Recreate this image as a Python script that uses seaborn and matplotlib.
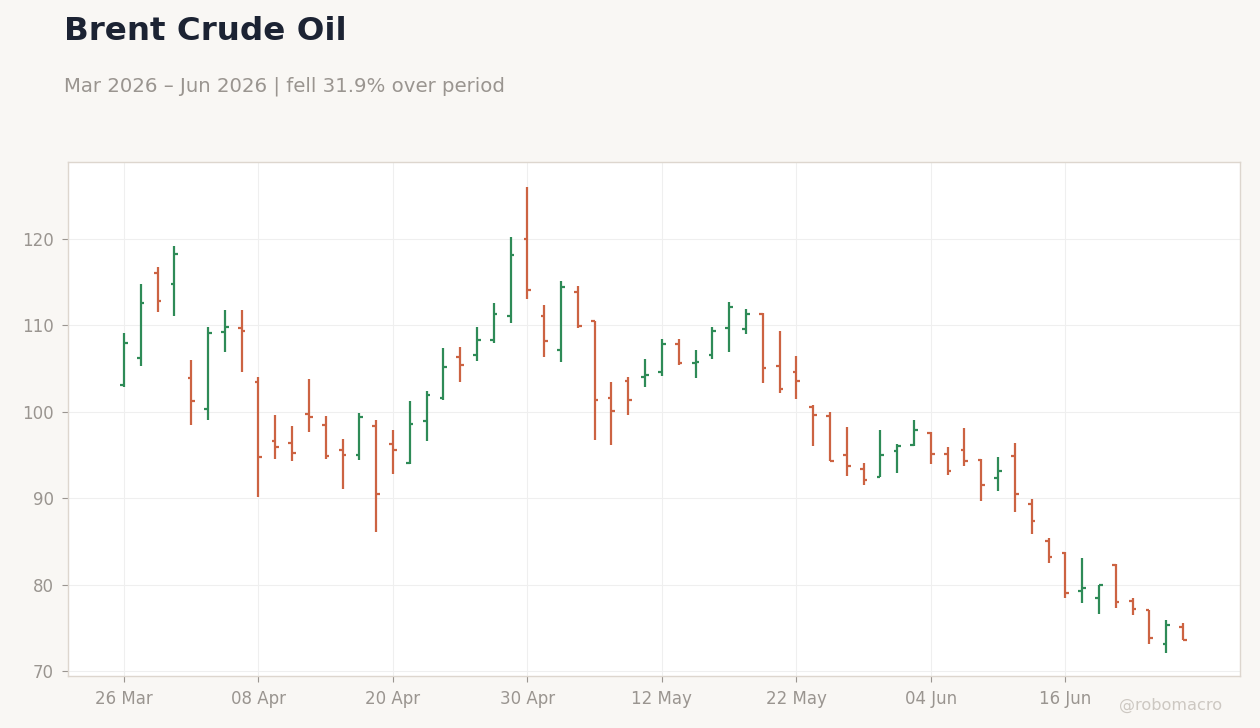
import pandas as pd
import numpy as np
import matplotlib
matplotlib.use("Agg")
import matplotlib.pyplot as plt
import seaborn as sns

# OHLC values (one per trading session)
opens = [103.1, 106.2, 116.1, 114.8, 103.9, 100.3, 109.2, 109.7, 103.45, 96.6,
         96.4, 99.7, 98.46, 95.57, 95.0, 98.35, 96.26, 94.07, 98.9, 101.56,
         106.33, 106.56, 108.3, 111.06, 119.95, 111.06, 107.14, 113.84, 110.49, 101.6,
         103.55, 104.0, 104.6, 107.84, 105.64, 106.56, 109.65, 109.57, 111.3, 105.33,
         104.64, 100.6, 99.55, 95.04, 93.42, 92.5, 95.5, 96.16, 97.58, 95.16,
         95.56, 94.41, 92.29, 94.87, 89.32, 85.04, 83.65, 79.22, 78.42, 82.27,
         78.1, 77.07, 73.15, 75.1]
highs = [109.06, 114.84, 116.8, 119.2, 105.95, 109.76, 111.8, 111.8, 104.0, 99.6,
         98.3, 103.84, 99.46, 96.9, 99.8, 99.0, 97.84, 101.2, 102.35, 107.33,
         107.45, 109.76, 112.64, 120.27, 126.04, 112.4, 115.18, 114.5, 110.5, 103.4,
         103.97, 106.06, 108.38, 108.38, 107.1, 109.77, 112.67, 111.85, 111.47, 109.32,
         106.45, 100.79, 99.98, 98.24, 94.08, 97.9, 96.28, 99.05, 97.63, 95.9,
         98.07, 94.49, 94.72, 96.34, 89.86, 85.35, 83.8, 83.04, 80.0, 82.35,
         78.42, 77.1, 75.88, 75.54]
lows = [102.87, 105.3, 111.5, 111.1, 98.5, 99.05, 106.9, 104.6, 90.1, 94.5,
        94.3, 97.65, 94.5, 91.07, 94.4, 86.1, 92.8, 94.0, 96.65, 101.4,
        103.44, 105.87, 107.95, 110.26, 113.0, 106.33, 105.75, 109.68, 96.7, 96.14,
        99.6, 102.85, 104.13, 105.4, 103.9, 106.1, 106.9, 109.0, 103.35, 102.2,
        101.5, 96.08, 94.27, 92.6, 91.57, 92.46, 92.96, 96.08, 94.0, 92.7,
        93.71, 89.67, 90.82, 88.4, 85.85, 82.5, 78.45, 77.9, 76.6, 77.3,
        76.5, 73.15, 72.1, 73.58]
closes = [108.0, 112.6, 112.8, 118.3, 101.25, 109.1, 109.8, 109.3, 94.8, 95.9,
          95.2, 99.35, 94.85, 94.96, 99.35, 90.46, 95.57, 98.57, 101.92, 105.17,
          105.4, 108.3, 111.3, 118.1, 114.07, 108.14, 114.41, 109.9, 101.38, 100.08,
          101.35, 104.24, 107.84, 105.64, 105.75, 109.34, 112.1, 111.3, 105.08, 102.67,
          103.6, 99.66, 94.3, 93.77, 92.15, 95.04, 96.08, 97.93, 95.16, 93.16,
          94.25, 91.48, 93.13, 90.44, 87.35, 83.19, 79.03, 79.6, 80.0, 77.99,
          77.15, 73.85, 75.35, 73.58]

holidays = ["2026-04-03", "2026-05-25", "2026-06-19"]
dates = pd.bdate_range("2026-03-26", periods=len(opens), freq="C", holidays=holidays)

df = pd.DataFrame({"date": dates, "open": opens, "high": highs,
                   "low": lows, "close": closes})
df["idx"] = np.arange(len(df))
df["up"] = df["close"] >= df["open"]

UP = "#2e8b57"
DOWN = "#cc6342"
BG = "#f9f7f4"
TXT = "#9a9590"

sns.set_theme(style="whitegrid")
plt.rcParams["font.family"] = ["DejaVu Sans"]

fig = plt.figure(figsize=(12.6, 7.28), dpi=100, facecolor=BG)
ax = fig.add_axes([68 / 1260, 52 / 728, 1172 / 1260, 514 / 728])
ax.set_facecolor("white")

# high-low stems plus open (left) and close (right) ticks
colors = np.where(df["up"], UP, DOWN)
tick_w = 0.22
ax.vlines(df["idx"], df["low"], df["high"], colors=colors, linewidth=1.6)
ax.hlines(df["open"], df["idx"] - tick_w, df["idx"], colors=colors, linewidth=1.6)
ax.hlines(df["close"], df["idx"], df["idx"] + tick_w, colors=colors, linewidth=1.6)

ax.set_xlim(-3.33, 66.39)
ax.set_ylim(69.42, 128.9)

xt = df["idx"][::8]
ax.set_xticks(xt)
ax.set_xticklabels([d.strftime("%d %b") for d in df["date"][::8]])
ax.set_yticks([70, 80, 90, 100, 110, 120])

ax.grid(True, color="#efefef", linewidth=0.8)
ax.tick_params(axis="both", colors=TXT, labelsize=12, length=4, width=0.8,
               pad=6, direction="out")
ax.tick_params(axis="x", bottom=True)
ax.tick_params(axis="y", left=True)
for s in ax.spines.values():
    s.set_color("#ddd6ce")
    s.set_linewidth(1.0)
ax.set_xlabel("")
ax.set_ylabel("")

fig.text(64 / 1260, 1 - 40 / 728, "Brent Crude Oil", fontsize=23.4, fontweight="bold",
         color="#1c2333", va="baseline", ha="left")
fig.text(64 / 1260, 1 - 92 / 728, "Mar 2026 \u2013 Jun 2026 | fell 31.9% over period",
         fontsize=14.25, color=TXT, va="baseline", ha="left")
fig.text(1222 / 1260, 1 - 710 / 728, "@robomacro", fontsize=11.6, color="#cdc8c2",
         va="baseline", ha="right")

fig.savefig("out.png", dpi=100, facecolor=BG)
